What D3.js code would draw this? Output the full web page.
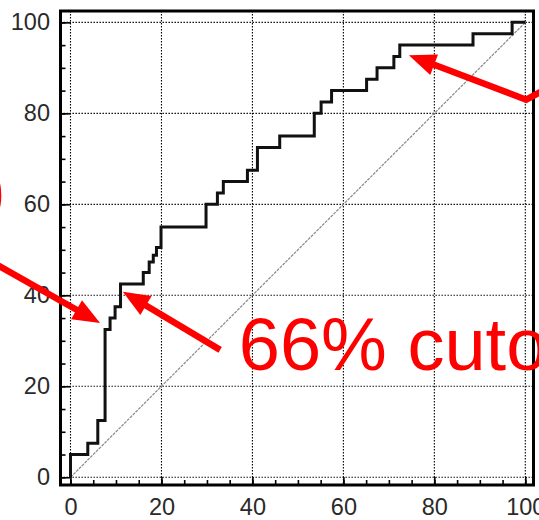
<!DOCTYPE html>
<html>
<head>
<meta charset="utf-8">
<script src="https://cdn.jsdelivr.net/npm/d3@7"></script>
<style>
  html, body { margin: 0; padding: 0; background: #fff; }
  svg { display: block; }
  text { font-family: "Liberation Sans", Arial, sans-serif; }
</style>
</head>
<body>
<svg id="chart" width="539" height="520"></svg>
<script>
// ROC curve: false positive rate (%) and true positive rate (%) at each step
const fpr = [0, 0, 3.8, 6.0, 7.6, 8.7, 9.8, 11.0, 16.0, 17.3, 18.2, 18.9, 19.9,
             29.8, 32.3, 33.6, 38.9, 41.1, 46.0, 53.6, 55.1, 57.4, 65.1, 67.4,
             71.1, 72.4, 88.5, 97.1, 100];
const tpr = [0, 5, 7.5, 12.5, 32.5, 35, 37.5, 42.5, 45, 47.3, 48.8, 50.5, 55,
             60, 62.5, 65, 67.5, 72.5, 75, 80, 82.5, 85, 87.5, 90,
             92.5, 95, 97.5, 100, 100];

// reference (chance) line
const chanceX = [0, 100];
const chanceY = [0, 100];

// axis ticks
const majorTicks = [0, 20, 40, 60, 80, 100];
const minorTicks = d3.range(0, 101, 5);

// annotation arrows in data units (tail ... tip)
const arrowLeft  = { path: [[-20, 48.9], [6.5, 33.9]] };
const arrowMid   = { path: [[32.9, 28.0], [11.5, 40.8]] };
const arrowRight = { path: [[107.6, 87.0], [100.2, 83.0], [74.4, 92.8]] };
const cutoffLabel = { text: "66% cutoff", x: 37.0, y: 23.6 };
const sideLabel   = { text: ")", x: -14.2, y: 57.6 };

const svg = d3.select("#chart");

const x = d3.scaleLinear().domain([-2.2, 101.8]).range([60.5, 533.5]);
const y = d3.scaleLinear().domain([-1.7, 102.5]).range([485, 11]);

const [x0, x1] = x.range();
const [y0, y1] = y.range();

// grid
const grid = svg.append("g").attr("stroke", "#000").attr("stroke-width", 1.1)
  .attr("stroke-dasharray", "1.4,1.6").attr("fill", "none");
grid.selectAll("line.v").data(majorTicks).join("line").attr("class", "v")
  .attr("x1", d => x(d)).attr("x2", d => x(d)).attr("y1", y1).attr("y2", y0);
grid.selectAll("line.h").data(majorTicks).join("line").attr("class", "h")
  .attr("y1", d => y(d)).attr("y2", d => y(d)).attr("x1", x0).attr("x2", x1);

// chance diagonal
svg.append("line")
  .attr("x1", x(chanceX[0])).attr("y1", y(chanceY[0]))
  .attr("x2", x(chanceX[1])).attr("y2", y(chanceY[1]))
  .attr("stroke", "#888").attr("stroke-width", 1.2)
  .attr("stroke-dasharray", "3,1");

// axes: minor ticks, then major ticks with labels
function styleAxis(g) {
  g.select(".domain").remove();
  g.selectAll(".tick line").attr("stroke", "#000").attr("stroke-width", 1.6);
  g.selectAll("text").attr("fill", "#2a2a2a").style("font-size", "23.5px")
    .style("font-family", "'Liberation Sans', Arial, sans-serif");
}

svg.append("g").attr("transform", `translate(${x0},0)`)
  .call(d3.axisLeft(y).tickValues(minorTicks).tickSize(-5).tickFormat(""))
  .call(styleAxis);
svg.append("g").attr("transform", `translate(${x0},0)`)
  .call(d3.axisLeft(y).tickValues(majorTicks).tickSize(-10).tickPadding(10.5).tickFormat(d3.format("d")))
  .call(styleAxis);

svg.append("g").attr("transform", `translate(0,${y0})`)
  .call(d3.axisBottom(x).tickValues(minorTicks).tickSize(-5).tickFormat(""))
  .call(styleAxis);
svg.append("g").attr("transform", `translate(0,${y0})`)
  .call(d3.axisBottom(x).tickValues(majorTicks).tickSize(-8).tickPadding(13).tickFormat(d3.format("d")))
  .call(styleAxis);

// frame
svg.append("rect")
  .attr("x", x0).attr("y", y1).attr("width", x1 - x0).attr("height", y0 - y1)
  .attr("fill", "none").attr("stroke", "#000").attr("stroke-width", 3);

// ROC step curve
const pts = fpr.map((f, i) => [f, tpr[i]]);
svg.append("path")
  .datum(pts)
  .attr("fill", "none")
  .attr("stroke", "#111")
  .attr("stroke-width", 3)
  .attr("stroke-linejoin", "miter")
  .attr("d", d3.line().x(d => x(d[0])).y(d => y(d[1])).curve(d3.curveStepAfter));

// annotations
const red = "#ff0000";
function arrow(spec) {
  const p = spec.path.map(d => [x(d[0]), y(d[1])]);
  const tip = p[p.length - 1], prev = p[p.length - 2];
  const dx = tip[0] - prev[0], dy = tip[1] - prev[1];
  const len = Math.hypot(dx, dy), ux = dx / len, uy = dy / len;
  const headLen = 27, headHalf = 11;
  const bx = tip[0] - ux * headLen, by = tip[1] - uy * headLen;
  const shaft = p.slice(0, -1).concat([[bx + ux * 2, by + uy * 2]]);
  svg.append("path")
    .attr("d", d3.line()(shaft))
    .attr("fill", "none").attr("stroke", red).attr("stroke-width", 6.5)
    .attr("stroke-linejoin", "miter");
  svg.append("path")
    .attr("d", d3.line()([
      tip,
      [bx - uy * headHalf, by + ux * headHalf],
      [bx + uy * headHalf, by - ux * headHalf]
    ]) + "Z")
    .attr("fill", red);
}
arrow(arrowLeft);
arrow(arrowMid);
arrow(arrowRight);

svg.append("text")
  .attr("x", x(cutoffLabel.x)).attr("y", y(cutoffLabel.y))
  .attr("fill", red).style("font-size", "74px")
  .text(cutoffLabel.text);

svg.append("text")
  .attr("x", x(sideLabel.x)).attr("y", y(sideLabel.y))
  .attr("text-anchor", "end")
  .attr("fill", red).style("font-size", "74px")
  .text(sideLabel.text);
</script>
</body>
</html>
